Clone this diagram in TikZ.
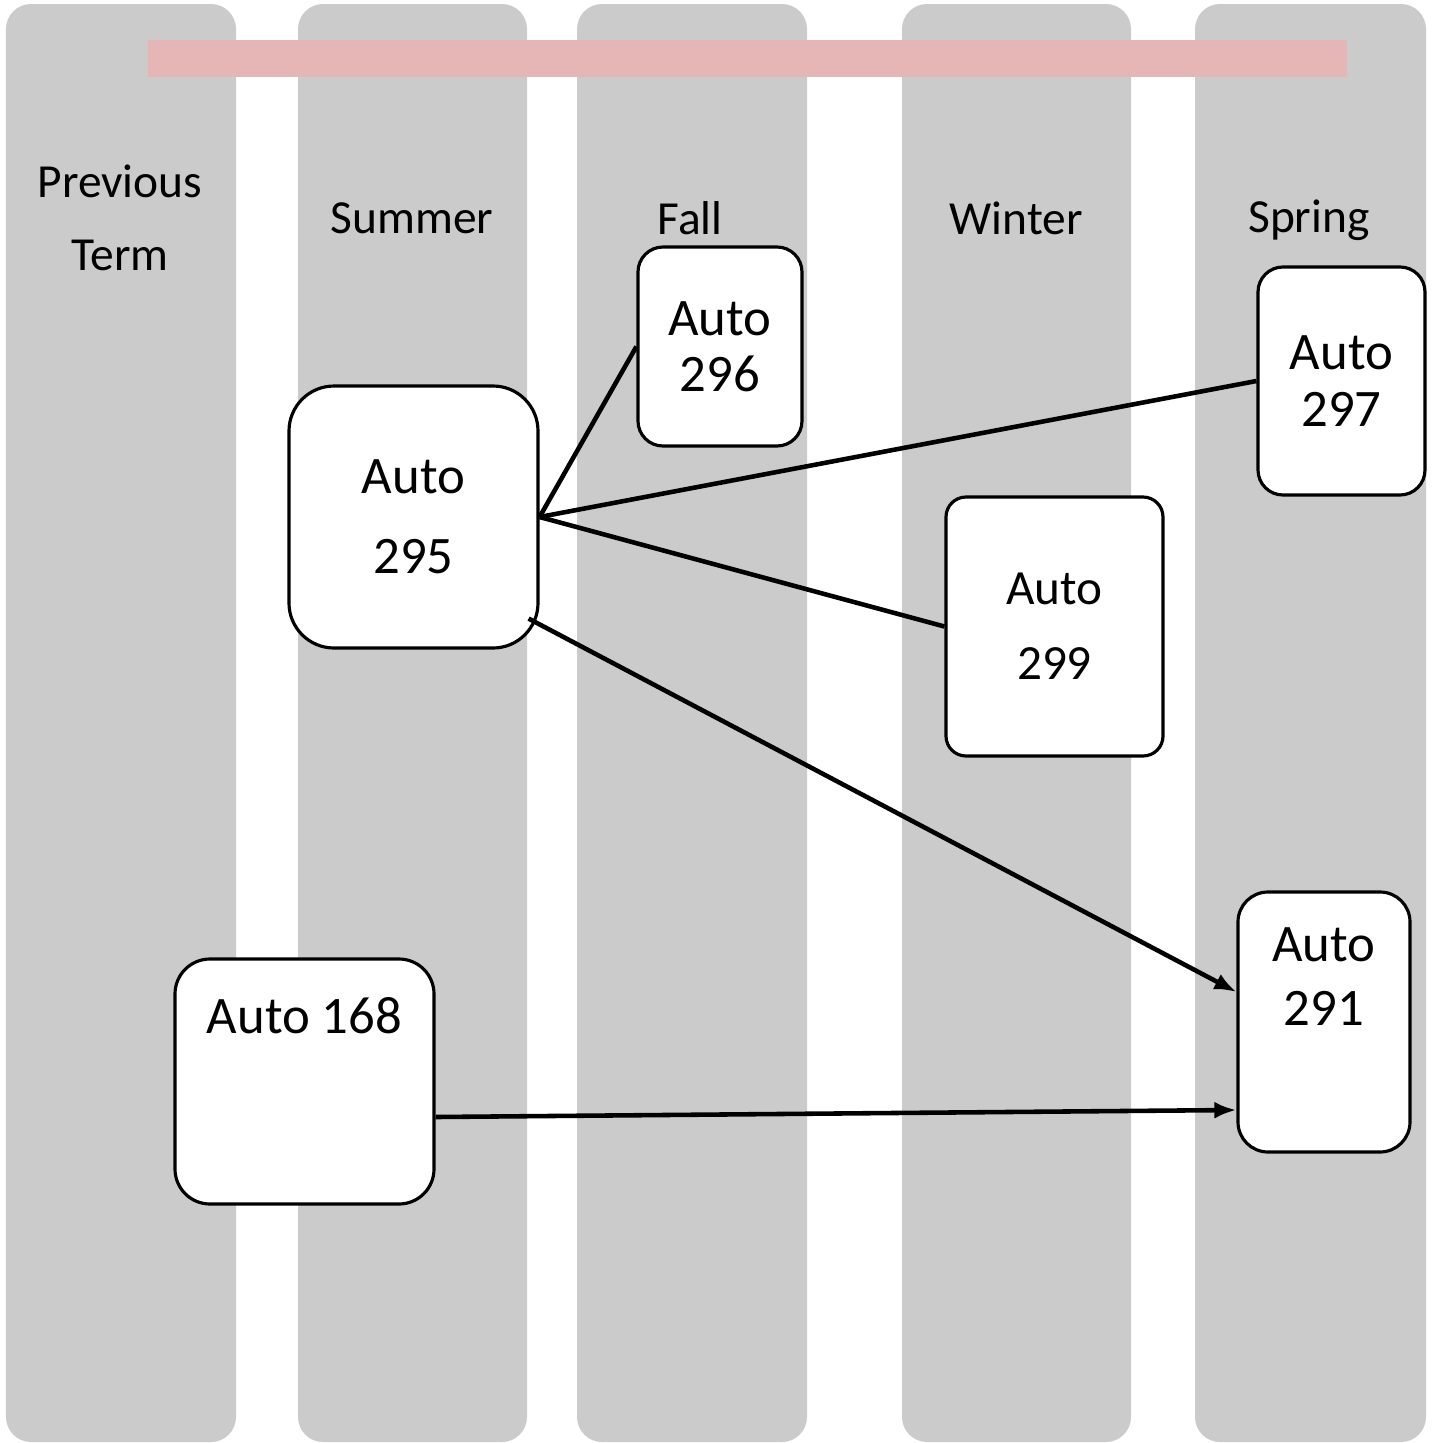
\documentclass[tikz,border=0pt]{standalone}
\usepackage{fontspec}
\setmainfont{Carlito}
\usetikzlibrary{arrows.meta, calc}

\definecolor{termgray}{HTML}{CBCBCB}
\definecolor{barpink}{HTML}{E6B5B5}

\tikzset{
	course/.style={draw, line width=0.9pt, fill=white, align=center, font=\fontsize{15}{16}\selectfont},
	termlabel/.style={align=center, font=\fontsize{13.5}{20.7}\selectfont},
	link/.style={line width=1.3pt},
	linkarrow/.style={line width=1.3pt, -{Latex[length=0.22cm, width=0.17cm]}}
}

\begin{document}
\begin{tikzpicture}
			\useasboundingbox (0, 0) rectangle (14.32, -14.43);
			
			\foreach \xa/\xb in {0.06/2.36, 2.98/5.27, 5.77/8.07, 9.02/11.31, 11.95/14.26}
				\fill[termgray, rounded corners=0.25cm] (\xa, -0.04) rectangle (\xb, -14.42);
			
			\fill[barpink] (1.48, -0.40) rectangle (13.47, -0.77);
			
			\node[termlabel] (prevlabel) at (1.20, -2.18) {Previous\\Term};
			\node[termlabel] (summerlabel) at (4.12, -2.18) {Summer};
			\node[termlabel] (falllabel) at (6.90, -2.18) {Fall};
			\node[termlabel] (winterlabel) at (10.16, -2.18) {Winter};
			\node[termlabel] (springlabel) at (13.09, -2.20) {Spring};
			
			\node[course, minimum width=2.49cm, minimum height=2.62cm, rounded corners=0.45cm, font=\fontsize{15}{22.7}\selectfont] (n295) at (4.135, -5.17) {Auto\\295};
			\node[course, minimum width=1.64cm, minimum height=1.99cm, rounded corners=0.25cm] (n296) at (7.20, -3.465) {Auto\\296};
			\node[course, minimum width=1.67cm, minimum height=2.28cm, rounded corners=0.25cm] (n297) at (13.415, -3.81) {Auto\\297};
			\node[course, minimum width=2.17cm, minimum height=2.59cm, rounded corners=0.2cm, font=\fontsize{14}{21.3}\selectfont] (n299) at (10.545, -6.265) {Auto\\299};
			\node[course, minimum width=1.72cm, minimum height=2.60cm, rounded corners=0.3cm, font=\fontsize{15}{18.4}\selectfont, text depth=0.91cm] (n291) at (13.24, -10.22) {Auto\\291};
			\node[course, minimum width=2.59cm, minimum height=2.45cm, rounded corners=0.35cm, text depth=1.33cm] (n168) at (3.045, -10.815) {Auto 168};
			
			\draw[link] (n295.east) -- (n296.west);
			\draw[link] (n295.east) -- (n297.west);
			\draw[link] (n295.east) -- (n299.west);
			
			\draw[linkarrow] ($(n295.south east)+(-0.11, 0.31)$) -- ($(n291.west)+(0, 0.30)$);
			\draw[linkarrow] ($(n168.east)+(0, -0.355)$) -- ($(n291.west)+(0, -0.88)$);
			
		\end{tikzpicture}
\end{document}
